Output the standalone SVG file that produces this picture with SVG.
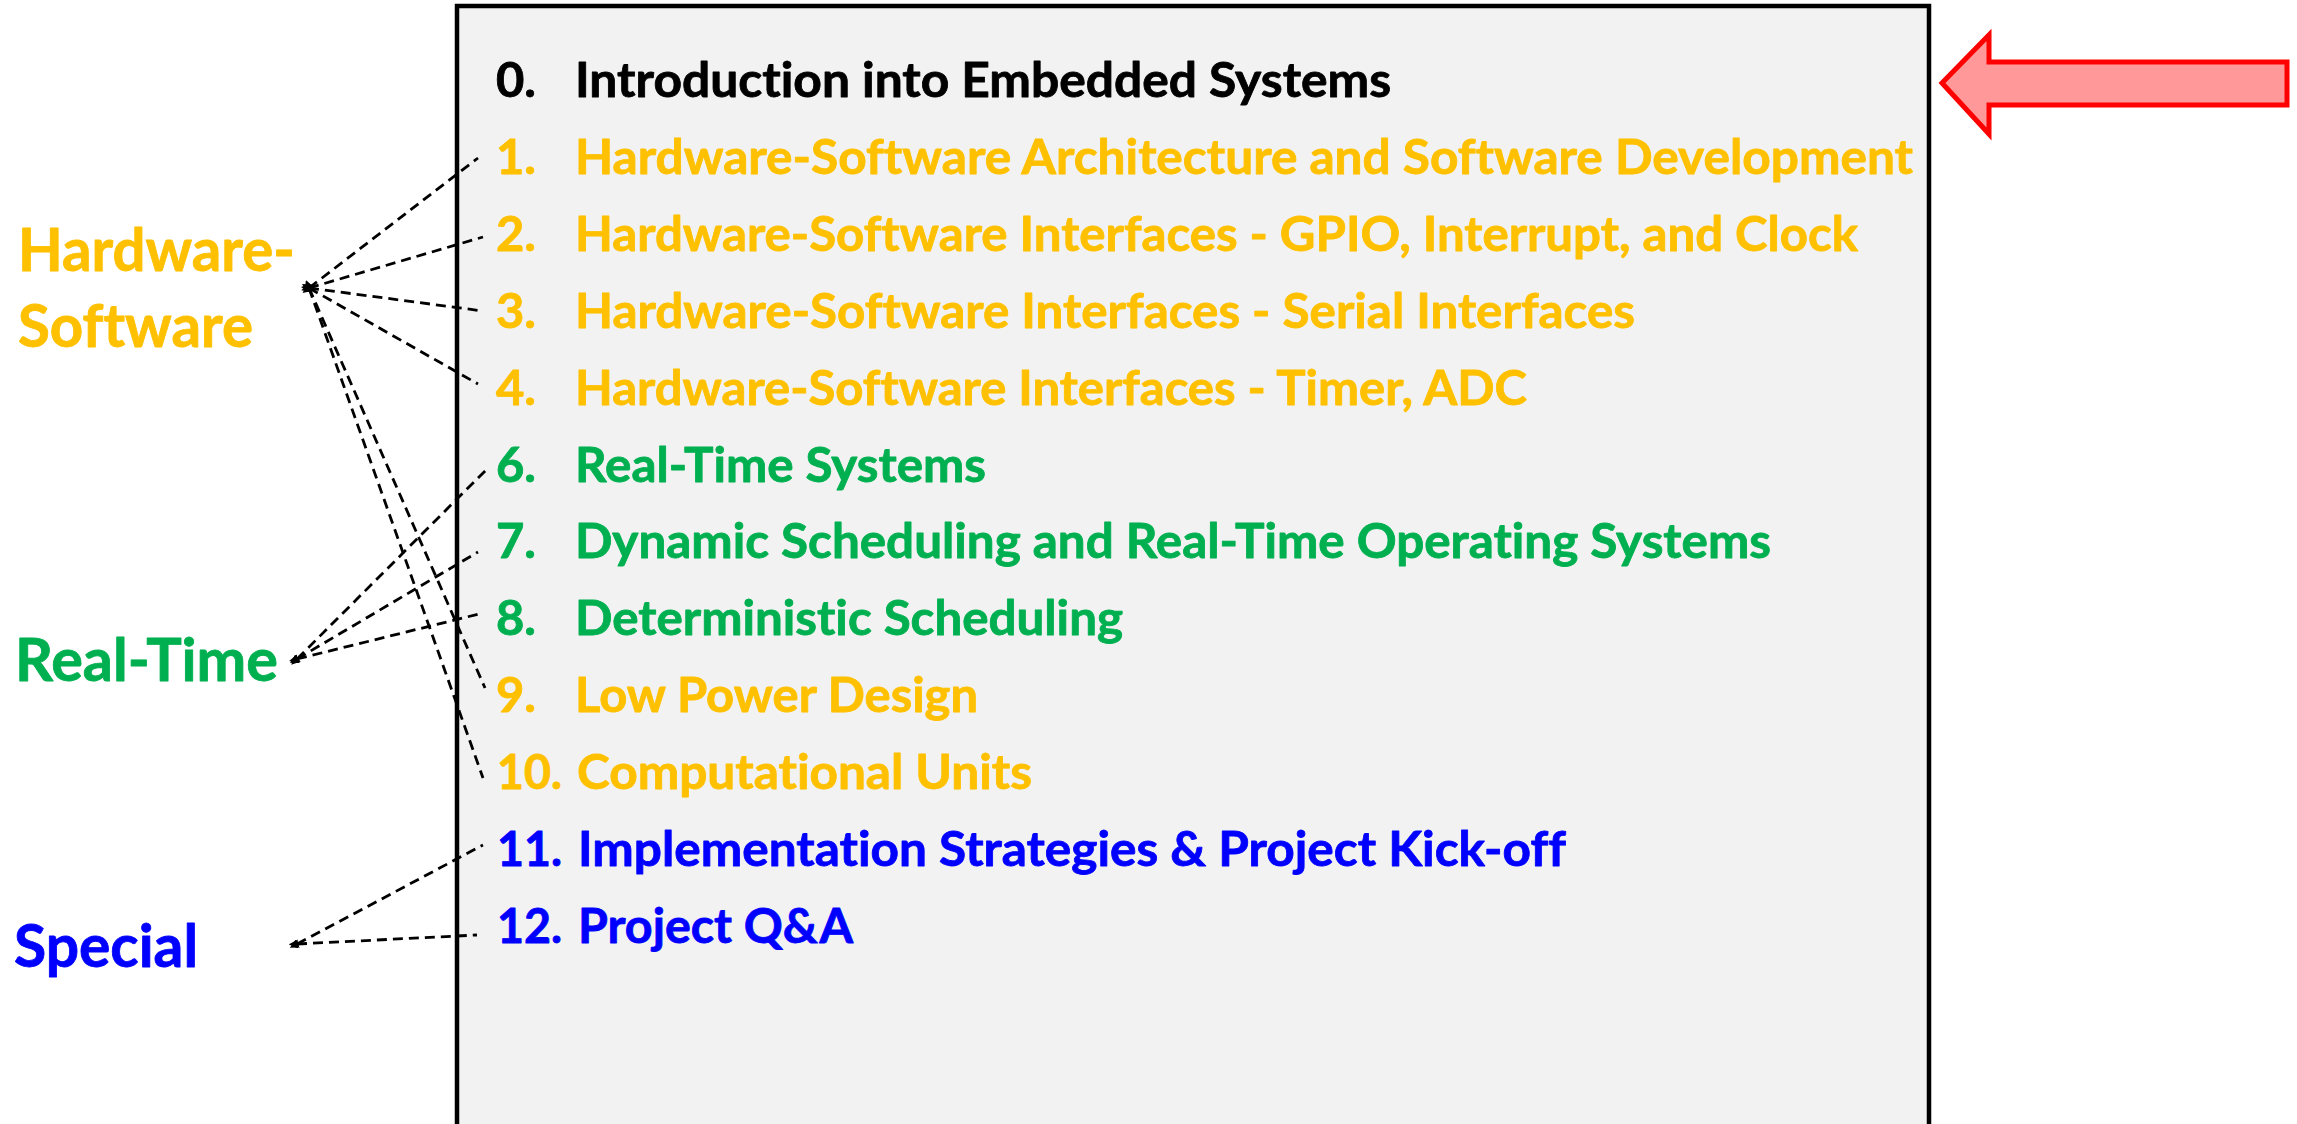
<svg xmlns="http://www.w3.org/2000/svg" width="2297" height="1124" viewBox="0 0 2297 1124">
  <style>
    text { font-family: Lato, "Open Sans", "Liberation Sans", sans-serif; font-weight: bold; font-variant-ligatures: none; font-feature-settings: "liga" 0; stroke-width: 0.8px; stroke-linejoin: round; }
    .item { font-size: 47.5px; }
    .label { font-size: 58.5px; }
    .hw { fill: #FFC000; stroke: #FFC000; }
    .rt { fill: #00B050; stroke: #00B050; }
    .sp { fill: #0000FF; stroke: #0000FF; }
    .intro { fill: #000000; stroke: #000000; }
    .link { fill: none; stroke: #000000; stroke-width: 2.8; stroke-dasharray: 10 6; marker-start: url(#tip); }
  </style>
  <defs>
    <marker id="tip" viewBox="0 0 10 10" refX="1" refY="5" markerUnits="userSpaceOnUse" markerWidth="9" markerHeight="9" orient="auto-start-reverse">
      <path d="M0,0 L10,5 L0,10 z" fill="#000000"/>
    </marker>
  </defs>
  <rect width="2297" height="1124" fill="#FFFFFF"/>

  <!-- lecture list panel -->
  <g id="panel">
    <rect x="457" y="6" width="1472" height="1140" fill="#F2F2F2" stroke="#000000" stroke-width="4.5"/>
  </g>

  <!-- topic entries -->
  <g id="item-0"><text class="item intro" x="496" y="97" textLength="40" lengthAdjust="spacingAndGlyphs">0.</text><text class="item intro" x="575" y="97" textLength="816" lengthAdjust="spacingAndGlyphs">Introduction into Embedded Systems</text></g>
  <g id="item-1"><text class="item hw" x="496" y="174" textLength="40" lengthAdjust="spacingAndGlyphs">1.</text><text class="item hw" x="575" y="174" textLength="1338" lengthAdjust="spacingAndGlyphs">Hardware-Software Architecture and Software Development</text></g>
  <g id="item-2"><text class="item hw" x="496" y="251" textLength="40" lengthAdjust="spacingAndGlyphs">2.</text><text class="item hw" x="575" y="251" textLength="1283" lengthAdjust="spacingAndGlyphs">Hardware-Software Interfaces - GPIO, Interrupt, and Clock</text></g>
  <g id="item-3"><text class="item hw" x="496" y="328" textLength="40" lengthAdjust="spacingAndGlyphs">3.</text><text class="item hw" x="575" y="328" textLength="1060" lengthAdjust="spacingAndGlyphs">Hardware-Software Interfaces - Serial Interfaces</text></g>
  <g id="item-4"><text class="item hw" x="496" y="405" textLength="40" lengthAdjust="spacingAndGlyphs">4.</text><text class="item hw" x="575" y="405" textLength="952" lengthAdjust="spacingAndGlyphs">Hardware-Software Interfaces - Timer, ADC</text></g>
  <g id="item-6"><text class="item rt" x="496" y="482" textLength="40" lengthAdjust="spacingAndGlyphs">6.</text><text class="item rt" x="575" y="482" textLength="411" lengthAdjust="spacingAndGlyphs">Real-Time Systems</text></g>
  <g id="item-7"><text class="item rt" x="496" y="558" textLength="40" lengthAdjust="spacingAndGlyphs">7.</text><text class="item rt" x="575" y="558" textLength="1196" lengthAdjust="spacingAndGlyphs">Dynamic Scheduling and Real-Time Operating Systems</text></g>
  <g id="item-8"><text class="item rt" x="496" y="635" textLength="40" lengthAdjust="spacingAndGlyphs">8.</text><text class="item rt" x="575" y="635" textLength="548" lengthAdjust="spacingAndGlyphs">Deterministic Scheduling</text></g>
  <g id="item-9"><text class="item hw" x="496" y="712" textLength="40" lengthAdjust="spacingAndGlyphs">9.</text><text class="item hw" x="575" y="712" textLength="403" lengthAdjust="spacingAndGlyphs">Low Power Design</text></g>
  <g id="item-10"><text class="item hw" x="497" y="789" textLength="65" lengthAdjust="spacingAndGlyphs">10.</text><text class="item hw" x="577" y="789" textLength="455" lengthAdjust="spacingAndGlyphs">Computational Units</text></g>
  <g id="item-11"><text class="item sp" x="497" y="866" textLength="65" lengthAdjust="spacingAndGlyphs">11.</text><text class="item sp" x="578" y="866" textLength="988" lengthAdjust="spacingAndGlyphs">Implementation Strategies &amp; Project Kick-off</text></g>
  <g id="item-12"><text class="item sp" x="497" y="943" textLength="65" lengthAdjust="spacingAndGlyphs">12.</text><text class="item sp" x="578" y="943" textLength="275" lengthAdjust="spacingAndGlyphs">Project Q&amp;A</text></g>

  <!-- category labels -->
  <g id="cat-hw-sw">
    <text class="label hw" x="18" y="271" textLength="277" lengthAdjust="spacingAndGlyphs">Hardware-</text>
    <text class="label hw" x="18" y="347" textLength="235" lengthAdjust="spacingAndGlyphs">Software</text>
  </g>
  <g id="cat-real-time">
    <text class="label rt" x="15" y="681" textLength="263" lengthAdjust="spacingAndGlyphs">Real-Time</text>
  </g>
  <g id="cat-special">
    <text class="label sp" x="14" y="967" textLength="184" lengthAdjust="spacingAndGlyphs">Special</text>
  </g>

  <!-- current-topic pointer -->
  <g id="pointer">
    <polygon points="1942,83 1989,35 1989,62 2287,62 2287,105 1989,105 1989,134" fill="#FF9999" stroke="#FF0000" stroke-width="5" stroke-linejoin="miter"/>
  </g>

  <!-- category-to-topic connectors -->
  <g id="connectors">
    <line class="link" x1="309" y1="288" x2="478" y2="158"/>
    <line class="link" x1="309" y1="288" x2="483" y2="237"/>
    <line class="link" x1="309" y1="288" x2="483" y2="311"/>
    <line class="link" x1="309" y1="288" x2="478" y2="384"/>
    <line class="link" x1="309" y1="288" x2="485" y2="688"/>
    <line class="link" x1="309" y1="288" x2="483" y2="778"/>
    <line class="link" x1="297" y1="659" x2="488" y2="468"/>
    <line class="link" x1="297" y1="659" x2="478" y2="552"/>
    <line class="link" x1="297" y1="659" x2="483" y2="613"/>
    <line class="link" x1="297" y1="944" x2="483" y2="845"/>
    <line class="link" x1="297" y1="944" x2="477" y2="935"/>
  </g>
</svg>
